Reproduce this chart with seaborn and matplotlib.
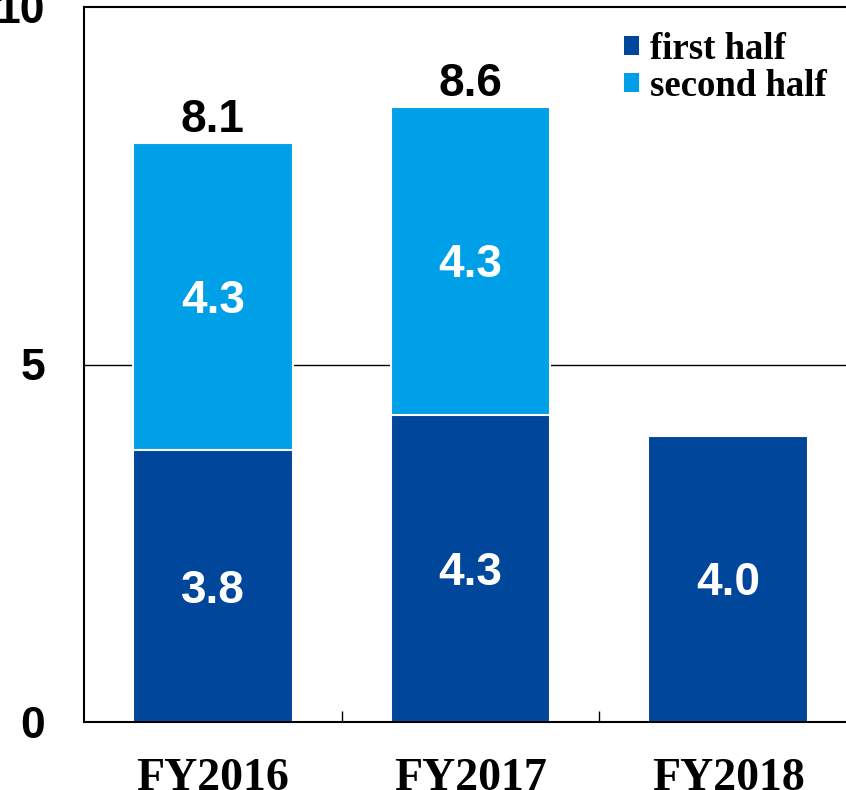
import pandas as pd
import seaborn as sns
import matplotlib
matplotlib.use("Agg")
import matplotlib.pyplot as plt
from matplotlib.patches import Patch

# Data
years = ["FY2016", "FY2017", "FY2018"]
first_half = [3.8, 4.3, 4.0]
second_half = [4.3, 4.3, 0.0]
totals = [8.1, 8.6, None]

# Constants
DARK_BLUE = "#00469b"
LIGHT_BLUE = "#00a0e9"
SANS = "Liberation Sans"
SERIF = "Liberation Serif"
LABEL_SIZE = 33

sns.set_style("white")
plt.rcParams["font.family"] = [SANS, "DejaVu Sans"]
plt.rcParams["text.color"] = "black"
plt.rcParams["xtick.color"] = "black"
plt.rcParams["ytick.color"] = "black"

df = pd.DataFrame({
    "year": years,
    "first": first_half,
    "second": second_half,
})
df["stack"] = df["first"] + df["second"]

fig = plt.figure(figsize=(8.46, 7.9), dpi=100)
ax = fig.add_axes([84 / 846, 68 / 790, (857 - 84) / 846, (722 - 7) / 790])

# Stacked bars: full height in light blue, first half on top in dark blue
sns.barplot(data=df, x="year", y="stack", color=LIGHT_BLUE, saturation=1,
            width=0.62, edgecolor="white", linewidth=1.5, ax=ax)
sns.barplot(data=df, x="year", y="first", color=DARK_BLUE, saturation=1,
            width=0.62, edgecolor="white", linewidth=1.5, ax=ax)

ax.set_xlim(-0.5, 2.5)
ax.set_ylim(0, 10)
ax.set_yticks([0, 5, 10])
ax.set_yticklabels(["0", "5", "10"], fontsize=32, fontweight="bold",
                   family=SANS, color="black")
ax.tick_params(axis="y", length=0, pad=28)
ax.axhline(5, color="black", linewidth=1, zorder=0)

ax.set_xticks(range(len(years)))
ax.set_xticklabels(years, fontsize=33, fontweight="bold", family=SERIF,
                   color="black")
ax.tick_params(axis="x", which="major", length=0, pad=26)
ax.set_xticks([0.5, 1.5], minor=True)
ax.tick_params(axis="x", which="minor", bottom=True, direction="in",
               length=8, width=1, color="black")
ax.set_xlabel("")
ax.set_ylabel("")

for side in ["left", "top", "bottom", "right"]:
    ax.spines[side].set_visible(True)
    ax.spines[side].set_color("black")
    ax.spines[side].set_linewidth(1.5)

# Value labels (baseline placed so the digits sit centred)
px_per_unit = (722 - 7) / 10
cap = LABEL_SIZE * 0.716 * 100 / 72 / px_per_unit
for i in range(len(years)):
    f = first_half[i]
    s = second_half[i]
    ax.text(i, f / 2 - cap / 2, "{:.1f}".format(f), ha="center",
            va="baseline", color="white", fontsize=LABEL_SIZE,
            fontweight="bold", family=SANS)
    if s > 0:
        ax.text(i, f + s / 2 - cap / 2, "{:.1f}".format(s), ha="center",
                va="baseline", color="white", fontsize=LABEL_SIZE,
                fontweight="bold", family=SANS)
    if totals[i] is not None:
        ax.text(i, f + s + 0.15, "{:.1f}".format(totals[i]), ha="center",
                va="baseline", color="black", fontsize=LABEL_SIZE,
                fontweight="bold", family=SANS)

handles = [Patch(facecolor=DARK_BLUE, edgecolor="none", label="first half"),
           Patch(facecolor=LIGHT_BLUE, edgecolor="none", label="second half")]
ax.legend(handles=handles, loc="upper left",
          bbox_to_anchor=(624 / 846, 1 - 32 / 790),
          bbox_transform=fig.transFigure, frameon=False,
          prop={"family": SERIF, "weight": "bold", "size": 26.5},
          labelcolor="black",
          handlelength=0.42, handleheight=0.42, handletextpad=0.3,
          labelspacing=0.05, borderpad=0, borderaxespad=0)

plt.savefig("out.png", dpi=100)
plt.close()
